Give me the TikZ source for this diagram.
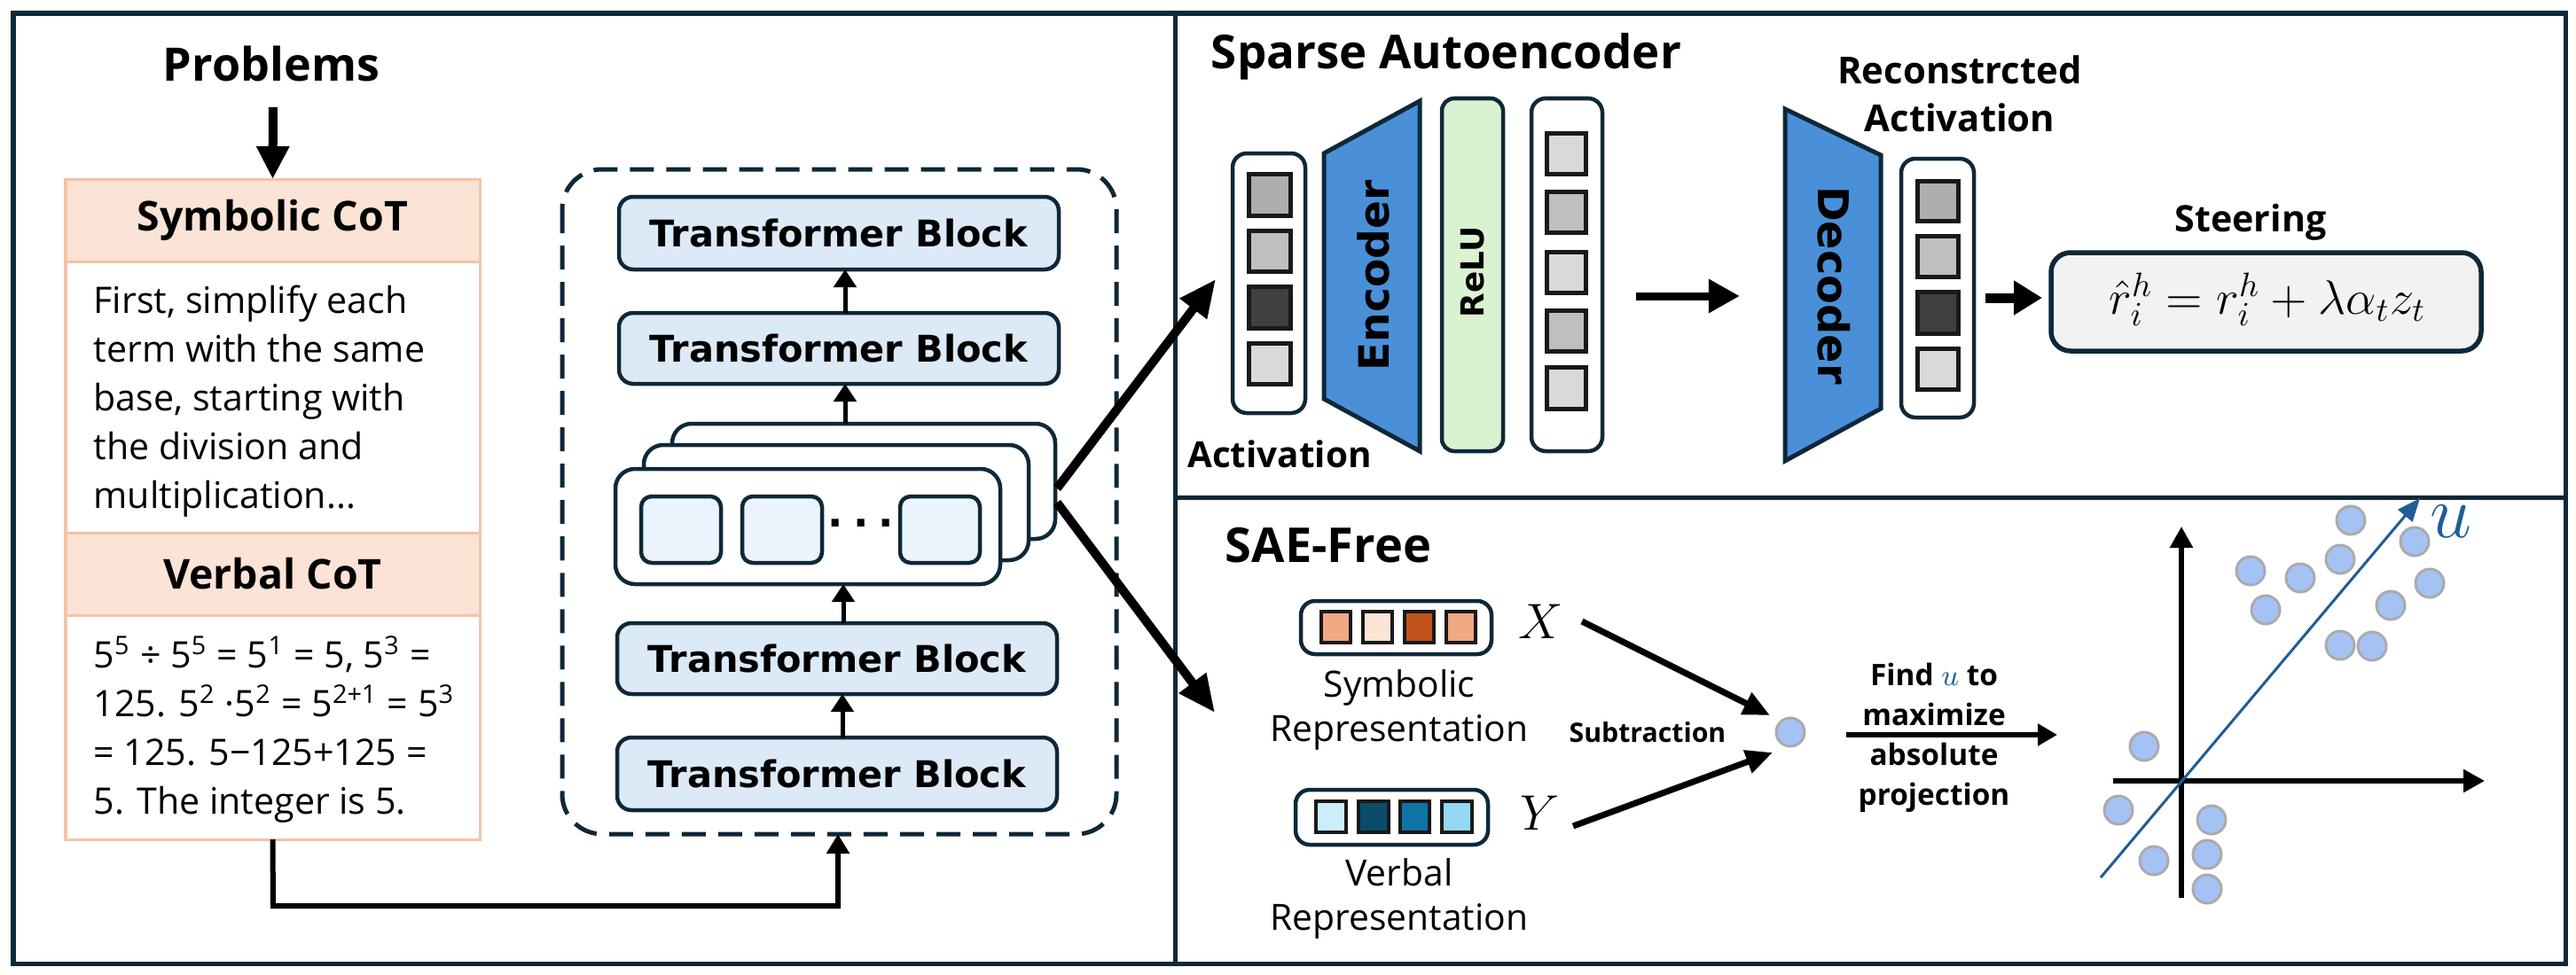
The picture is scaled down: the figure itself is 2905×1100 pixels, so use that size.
\RequirePackage{fix-cm}
\documentclass[tikz,border=0pt]{standalone}
\usepackage{fontspec}
\setmainfont{Open Sans}
\newfontfamily\heavy{DejaVu Sans}
\usetikzlibrary{arrows.meta,fit}
\definecolor{navy}{HTML}{0E2838}
\definecolor{peach}{HTML}{FBE3D6}
\definecolor{peachline}{HTML}{F5C3A6}
\definecolor{tbfill}{HTML}{DCE9F6}
\definecolor{cellfill}{HTML}{EBF3FC}
\definecolor{encblue}{HTML}{4A90D9}
\definecolor{relugreen}{HTML}{D9F2D0}
\definecolor{fgray}{HTML}{F2F2F2}
\definecolor{dotfill}{HTML}{A4C2F4}
\definecolor{dotline}{HTML}{ABABAB}
\definecolor{ublue}{HTML}{1F5C99}
\definecolor{ga}{HTML}{AEAEAE}
\definecolor{gb}{HTML}{BFBFBF}
\definecolor{gc}{HTML}{404040}
\definecolor{gd}{HTML}{D9D9D9}
\definecolor{oa}{HTML}{F1A984}
\definecolor{ob}{HTML}{FBE3D6}
\definecolor{oc}{HTML}{C0531B}
\definecolor{ba}{HTML}{CCEEFB}
\definecolor{bb}{HTML}{0B4C6A}
\definecolor{bc}{HTML}{0E75A6}
\definecolor{bd}{HTML}{94D8F4}
\newcommand\boxat[6]{\node[inner sep=0pt,outer sep=0pt,fit={(#3,#4) (#5,#6)},#1] (#2) {};}
\tikzset{
  frame/.style={draw=navy,line width=0.5mm},
  hdr/.style={fill=peach,draw=peachline,line width=0.3mm},
  bodybox/.style={fill=white,draw=peachline,line width=0.3mm},
  tb/.style={fill=tbfill,draw=navy,line width=0.45mm,rounded corners=1.6mm},
  layer/.style={fill=white,draw=navy,line width=0.45mm,rounded corners=2.2mm},
  cell/.style={fill=cellfill,draw=navy,line width=0.45mm,rounded corners=1.2mm},
  vec/.style={fill=white,draw=navy,line width=0.45mm,rounded corners=1.6mm},
  sq/.style={draw=black!90,line width=0.5mm},
  hsq/.style={draw=black!90,line width=0.4mm},
  tbtext/.style={font=\heavy\bfseries\fontsize{11.8}{14}\selectfont},
  bodytext/.style={font=\fontsize{11.7}{15.65}\selectfont,align=left,inner sep=0pt},
  bigarr/.style={line width=1mm,-{Triangle[length=4.2mm,width=3.6mm]}},
  smarr/.style={line width=0.5mm,-{Triangle[length=2mm,width=2.5mm]}},
  midarr/.style={line width=0.9mm,-{Triangle[length=3.5mm,width=3.6mm]}},
  xyarr/.style={line width=0.7mm,-{Triangle[length=3mm,width=2.6mm]}},
  axarr/.style={line width=0.55mm,-{Triangle[length=2.4mm,width=2.5mm]}},
  dot/.style={circle,minimum size=3.2mm,inner sep=0pt,fill=dotfill,draw=dotline,line width=0.3mm},
}
\begin{document}
\begin{tikzpicture}[x=0.01cm,y=-0.01cm]
\useasboundingbox (0,0) rectangle (2905,1100);
% panels
\draw[frame] (15,15) rectangle (2893,1087);
\draw[frame] (1325,15) -- (1325,1087);
\draw[frame] (1325,561) -- (2893,561);

% ---------- left panel ----------
\node[font=\bfseries\fontsize{14.8}{16}\selectfont] (prob) at (306,72) {Problems};
\boxat{hdr}{symhdr}{74}{202}{541}{295}
\boxat{bodybox}{symbody}{74}{295}{541}{601}
\boxat{hdr}{verhdr}{74}{601}{541}{694}
\boxat{bodybox}{verbody}{74}{694}{541}{947}
\node[font=\bfseries\fontsize{13.2}{15}\selectfont] (symt) at (symhdr.center) {Symbolic CoT};
\node[font=\bfseries\fontsize{13.2}{15}\selectfont] (vert) at (verhdr.center) {Verbal CoT};
\coordinate (probarr) at (308,121);
\draw[line width=1mm,-{Triangle[length=3.7mm,width=3.5mm]}] (probarr) -- (symhdr.north);
\node[bodytext,anchor=north west] (symtext) at (105,321) {First, simplify each\\term with the same\\base, starting with\\the division and\\multiplication...};
\node[bodytext,anchor=north west] (vertext) at (105,717) {5\textsuperscript{5} ÷ 5\textsuperscript{5} = 5\textsuperscript{1} = 5, 5\textsuperscript{3} =\\125. 5\textsuperscript{2} ·5\textsuperscript{2} = 5\textsuperscript{2+1} = 5\textsuperscript{3}\\= 125. 5−125+125 =\\5. The integer is 5.};

% transformer stack
\draw[navy,line width=0.5mm,dash pattern=on 2.7mm off 1.4mm,rounded corners=4.5mm] (634,191) rectangle (1259,941);
\coordinate (dashbot) at (945,941);
\boxat{tb}{tb1}{698}{222}{1194}{304}
\boxat{tb}{tb2}{698}{353}{1194}{433}
\boxat{tb}{tb3}{696}{703}{1192}{783}
\boxat{tb}{tb4}{696}{832}{1192}{914}
\node[tbtext] at (tb1.center) {Transformer Block};
\node[tbtext] at (tb2.center) {Transformer Block};
\node[tbtext] at (tb3.center) {Transformer Block};
\node[tbtext] at (tb4.center) {Transformer Block};
\boxat{layer}{back}{758}{478}{1190}{608}
\boxat{layer}{mid}{726}{502}{1160}{632}
\boxat{layer}{front}{694}{529}{1128}{659}
\boxat{cell}{c1}{723}{560}{813}{635}
\boxat{cell}{c2}{837}{560}{927}{635}
\boxat{cell}{c3}{1015}{560}{1105}{635}
\node[font=\heavy\bfseries\fontsize{13}{13}\selectfont] (dots) at (971,590) {.\hspace{3.2pt}.\hspace{3.2pt}.};
\draw[smarr] (tb4.north -| 950,0) -- (tb3.south -| 950,0);
\draw[smarr] (tb3.north -| 951,0) -- (front.south -| 951,0);
\draw[smarr] (back.north -| 953,0) -- (tb2.south -| 953,0);
\draw[smarr] (tb2.north -| 953,0) -- (tb1.south -| 953,0);
\draw[line width=0.6mm,-{Triangle[length=2.2mm,width=2.5mm]}] (verbody.south) -- (308,1022) -- (945,1022) -- (dashbot);

% big arrows
\coordinate (outA) at (1192,551);
\coordinate (outB) at (1192,567);
\coordinate (tipA) at (1371,315);
\coordinate (tipB) at (1370,804);
\draw[bigarr] (outA) -- (tipA);
\draw[bigarr] (outB) -- (tipB);

% ---------- sparse autoencoder ----------
\node[font=\bfseries\fontsize{15}{16}\selectfont] (saet) at (1631,64) {Sparse Autoencoder};
\boxat{vec}{act}{1390}{173}{1472}{466}
\boxat{sq,fill=ga}{a1}{1408}{196}{1455}{243}
\boxat{sq,fill=gb}{a2}{1408}{260}{1455}{306}
\boxat{sq,fill=gc}{a3}{1408}{323}{1455}{370}
\boxat{sq,fill=gd}{a4}{1408}{387}{1455}{433}
\node[font=\bfseries\fontsize{11.5}{13}\selectfont] (actl) at (1443,512) {Activation};
\draw[fill=encblue,draw=navy,line width=0.5mm] (1493,173) -- (1601,114) -- (1601,509) -- (1493,450) -- cycle;
\node[rotate=90,font=\heavy\bfseries\fontsize{13.4}{14}\selectfont] (enc) at (1549,311) {Encoder};
\boxat{fill=relugreen,draw=navy,line width=0.45mm,rounded corners=1.4mm}{relu}{1626}{111}{1695}{509}
\node[rotate=90,font=\heavy\bfseries\fontsize{10.2}{12}\selectfont] (relut) at (1661,307) {ReLU};
\boxat{vec}{lat}{1727}{111}{1807}{509}
\boxat{sq,fill=gd}{l1}{1744}{150}{1788}{196}
\boxat{sq,fill=gb}{l2}{1744}{216}{1788}{262}
\boxat{sq,fill=gd}{l3}{1744}{284}{1788}{330}
\boxat{sq,fill=gb}{l4}{1744}{350}{1788}{396}
\boxat{sq,fill=gd}{l5}{1744}{414}{1788}{461}
\draw[fill=encblue,draw=navy,line width=0.5mm] (2013,123) -- (2121,175) -- (2121,461) -- (2013,520) -- cycle;
\coordinate (m0) at (1845,334);
\coordinate (m1) at (1962,334);
\draw[midarr] (m0) -- (m1);
\node[rotate=-90,font=\heavy\bfseries\fontsize{13.6}{14}\selectfont] (dec) at (2068,322) {Decoder};
\node[font=\bfseries\fontsize{11.9}{15.5}\selectfont,align=center] (recl) at (2210,106) {Reconstrcted\\Activation};
\boxat{vec}{rec}{2144}{179}{2226}{471}
\boxat{sq,fill=ga}{r1}{2162}{204}{2208}{249}
\boxat{sq,fill=gb}{r2}{2162}{266}{2208}{312}
\boxat{sq,fill=gc}{r3}{2162}{329}{2208}{376}
\boxat{sq,fill=gd}{r4}{2162}{393}{2208}{439}
\boxat{fill=fgray,draw=navy,line width=0.55mm,rounded corners=2.2mm}{form}{2313}{285}{2798}{396}
\node[font=\fontsize{15.5}{18}\selectfont] (formt) at (2557,338) {$\hat{r}_i^h = r_i^h + \lambda\alpha_t z_t$};
\coordinate (f0) at (2239,336);
\coordinate (f1) at (2303,336);
\draw[line width=1.1mm,-{Triangle[length=3.2mm,width=3.7mm]}] (f0) -- (f1);
\node[font=\bfseries\fontsize{11.7}{12}\selectfont] (steer) at (2538,251) {Steering};

% ---------- SAE-free ----------
\node[font=\bfseries\fontsize{15.4}{16}\selectfont] (freet) at (1498,615) {SAE-Free};
\boxat{vec}{symv}{1467}{678}{1682}{738}
\boxat{hsq,fill=oa}{s1}{1490}{690}{1523}{725}
\boxat{hsq,fill=ob}{s2}{1537}{690}{1570}{725}
\boxat{hsq,fill=oc}{s3}{1584}{690}{1617}{725}
\boxat{hsq,fill=oa}{s4}{1631}{690}{1664}{725}
\node[font=\fontsize{16}{18}\selectfont] (X) at (1738,701) {$X$};
\node[font=\fontsize{11.6}{14.2}\selectfont,align=center] (syml) at (1578,801) {Symbolic\\Representation};
\boxat{vec}{verv}{1461}{891}{1678}{953}
\boxat{hsq,fill=ba}{v1}{1484}{904}{1518}{939}
\boxat{hsq,fill=bb}{v2}{1532}{904}{1566}{939}
\boxat{hsq,fill=bc}{v3}{1579}{904}{1612}{939}
\boxat{hsq,fill=bd}{v4}{1626}{904}{1660}{939}
\node[font=\fontsize{16}{18}\selectfont] (Y) at (1737,917) {$Y$};
\node[font=\fontsize{11.6}{14.2}\selectfont,align=center] (verl) at (1578,1014) {Verbal\\Representation};
\node[dot] (sub) at (2019,826) {};
\coordinate (xa) at (1784,701);
\coordinate (xb) at (1996,807);
\coordinate (ya) at (1774,932);
\coordinate (yb) at (1999,849);
\draw[xyarr] (xa) -- (xb);
\draw[xyarr] (ya) -- (yb);
\node[font=\bfseries\fontsize{8.6}{10}\selectfont] (subt) at (1858,826) {Subtraction};
\node[font=\bfseries\fontsize{9.5}{12.8}\selectfont,align=center] (findt) at (2181,832) {Find \textcolor{ublue}{$u$} to\\maximize\\absolute\\projection};
\coordinate (fa) at (2082,829);
\coordinate (fb) at (2320,829);
\draw[line width=0.6mm,-{Triangle[length=2.2mm,width=2.4mm]}] (fa) -- (fb);
% plot
\coordinate (vy0) at (2460,1013);
\coordinate (vy1) at (2460,594);
\coordinate (hx0) at (2383,881);
\coordinate (hx1) at (2802,881);
\draw[axarr] (vy0) -- (vy1);
\draw[axarr] (hx0) -- (hx1);
\foreach \px/\py [count=\i] in {2651/587,2723/611,2639/631,2538/644,2594/652,2740/658,2555/688,2696/683,2639/728,2675/729,2418/842,2389/914,2494/925,2429/971,2489/964,2489/1003}
  \node[dot] (p\i) at (\px,\py) {};
\coordinate (u0) at (2369,990);
\coordinate (u1) at (2729,562);
\draw[ublue,line width=0.3mm,-{Triangle[length=2.6mm,width=2.1mm]}] (u0) -- (u1);
\node[text=ublue,font=\fontsize{24}{26}\selectfont] (ul) at (2764,588) {$u$};
\end{tikzpicture}
\end{document}
